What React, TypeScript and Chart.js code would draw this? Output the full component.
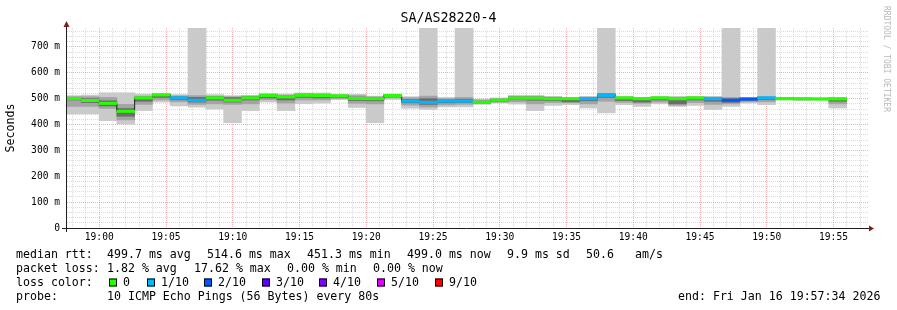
import React, { useEffect, useRef } from 'react';
import { Chart, registerables } from 'chart.js';

Chart.register(...registerables);

// ---------- data ----------
// step centre times, seconds relative to 19:00:00 (80 s steps)
const stepTimes = [
  -121, -41, 39, 119, 199, 279, 359, 439, 519, 599, 679, 759, 839, 919, 999,
  1079, 1159, 1239, 1319, 1399, 1479, 1559, 1639, 1719, 1799, 1879, 1959, 2039,
  2119, 2199, 2279, 2359, 2439, 2519, 2599, 2679, 2759, 2839, 2919, 2999, 3079,
  3159, 3239, 3319,
];
// median rtt (ms)
const median = [
  501, 493, 482, 451.3, 503, 514.6, 503, 494, 503, 494, 503, 512, 507, 513, 512,
  511, 501, 500, 512, 491, 486, 491, 491, 486, 494, 502, 502, 500, 500, 500,
  513, 503, 500, 503, 500, 503, 500, 494, 499, 503, 500, 500, 499, 499,
];
// loss level index into lossColors
const lossLevel = [
  0, 0, 0, 0, 0, 0, 1, 1, 0, 0, 0, 0, 0, 0, 0, 0, 0, 0, 0, 1, 1, 1, 1, 0, 0, 0,
  0, 0, 0, 1, 1, 0, 0, 0, 0, 0, 1, 2, 2, 1, 0, 0, 0, 0,
];
// smoke: fastest / slowest ping (ms); 780 = beyond the top of the graph
const smokeMin = [
  441, 441, 415, 402, 454, 487, 472, 467, 460, 407, 454, 487, 454, 481, 483,
  496, 466, 407, 497, 463, 459, 468, 468, 478, 483, 479, 454, 474, 477, 464,
  445, 477, 470, 480, 470, 474, 458, 470, 483, 477, 495, 494, 495, 464,
];
const smokeMax = [
  512, 514, 523, 523, 518, 520, 516, 780, 516, 512, 513, 520, 518, 522, 522,
  516, 517, 510, 518, 508, 780, 505, 780, 498, 503, 513, 513, 509, 505, 509,
  780, 509, 505, 509, 509, 509, 509, 780, 505, 780, 505, 503, 503, 505,
];
// smoke: 2nd fastest / 2nd slowest ping band
const midLo = [
  470, 470, 462, 418, 478, 495, 488, 478, 480, 478, 480, 496, 483, 495, 495,
  500, 482, 480, 503, 475, 468, 476, 478, 481, 486, 488, 480, 485, 484, 480,
  490, 486, 482, 487, 475, 485, 478, 480, 488, 488, 497, 495, 496, 480,
];
const midHi = [
  508, 508, 505, 478, 510, 518, 511, 512, 510, 508, 510, 518, 514, 520, 519,
  515, 512, 507, 516, 504, 510, 500, 505, 495, 500, 509, 509, 506, 503, 506,
  520, 506, 503, 506, 505, 506, 506, 505, 502, 508, 503, 502, 502, 503,
];
// smoke: central pings band
const coreLo = [
  495, 485, 472, 432, 490, 505, 496, 487, 494, 487, 495, 503, 495, 505, 503,
  505, 493, 492, 507, 484, 478, 484, 485, 483, 489, 496, 494, 493, 488, 492,
  505, 493, 487, 495, 480, 495, 490, 486, 493, 496, 498, 496, 497, 490,
];
const coreHi = [
  505, 500, 492, 462, 506, 516, 507, 505, 507, 504, 507, 515, 510, 517, 515,
  513, 506, 504, 514, 497, 500, 496, 498, 490, 498, 506, 506, 504, 500, 503,
  519, 505, 499, 505, 500, 505, 503, 500, 500, 506, 502, 501, 501, 500,
];

const xTickValues = [0, 300, 600, 900, 1200, 1500, 1800, 2100, 2400, 2700, 3000, 3300];
const xTickLabels = ['19:00', '19:05', '19:10', '19:15', '19:20', '19:25', '19:30', '19:35', '19:40', '19:45', '19:50', '19:55'];
const yTickValues = [0, 100, 200, 300, 400, 500, 600, 700];
const yTickLabels = ['0', '100 m', '200 m', '300 m', '400 m', '500 m', '600 m', '700 m'];

const lossLabels = ['0', '1/10', '2/10', '3/10', '4/10', '5/10', '9/10'];
const lossColors = ['#26ff00', '#00b8ff', '#0059ff', '#5e00ff', '#7e00ff', '#dd00ff', '#ff0000'];

const title = 'SA/AS28220-4';
const yTitle = 'Seconds';
const watermark = 'RRDTOOL / TOBI OETIKER';
const rttLabel = 'median rtt:';
const rttStats = ['499.7 ms avg', '514.6 ms max', '451.3 ms min', '499.0 ms now', '9.9 ms sd', '50.6', 'am/s'];
const lossLabel = 'packet loss:';
const lossStats = ['1.82 % avg', '17.62 % max', '0.00 % min', '0.00 % now'];
const lossColorLabel = 'loss color:';
const probeLabel = 'probe:';
const probeText = '10 ICMP Echo Pings (56 Bytes) every 80s';
const endText = 'end: Fri Jan 16 19:57:34 2026';

// ---------- layout / style ----------
const W = 897;
const H = 310;
const X_MIN = -145;
const X_MAX = 3455;
const Y_MAX = 773.4;
const MEDIAN_HALF = 4.6;
const MONO = '"DejaVu Sans Mono", monospace';
const MINOR = 'rgba(143,143,143,0.32)';
const MAJOR = 'rgba(222,79,79,0.45)';

const rttX = [107, 207, 307, 407, 507, 586, 635];
const lossX = [107, 194, 287, 373];
const boxX = [109, 147, 204, 262, 319, 377, 435];
const rowY = [254.5, 268.5, 282.5, 296.5];

const barDs = (lo: number[], hi: number[], color: any, order: number) => ({
  type: 'bar' as const,
  data: stepTimes.map((t, i) => ({ x: t, y: [lo[i], hi[i]] })),
  backgroundColor: color,
  borderWidth: 0,
  barThickness: 'flex' as const,
  categoryPercentage: 1,
  barPercentage: 1,
  stack: 'smoke',
  clip: 0,
  order,
});

const decor = {
  id: 'decor',
  afterDraw(chart: any) {
    const ctx: CanvasRenderingContext2D = chart.ctx;
    const { left, right, top, bottom } = chart.chartArea;
    ctx.save();
    // axes
    ctx.strokeStyle = '#1f1f1f';
    ctx.lineWidth = 1;
    ctx.beginPath();
    ctx.moveTo(left - 5, bottom + 0.5);
    ctx.lineTo(right + 3, bottom + 0.5);
    ctx.moveTo(left - 0.5, bottom + 4);
    ctx.lineTo(left - 0.5, top - 2);
    ctx.stroke();
    ctx.fillStyle = '#801f1f';
    ctx.beginPath();
    ctx.moveTo(right + 1, bottom - 2.5);
    ctx.lineTo(right + 6, bottom + 0.5);
    ctx.lineTo(right + 1, bottom + 3.5);
    ctx.closePath();
    ctx.fill();
    ctx.beginPath();
    ctx.moveTo(left - 3.5, top - 1);
    ctx.lineTo(left - 0.5, top - 7);
    ctx.lineTo(left + 2.5, top - 1);
    ctx.closePath();
    ctx.fill();

    // title
    ctx.fillStyle = '#000';
    ctx.textBaseline = 'middle';
    ctx.textAlign = 'center';
    ctx.font = `13.3px ${MONO}`;
    ctx.fillText(title, W / 2, 19);

    // watermark
    ctx.save();
    ctx.translate(886, 59);
    ctx.rotate(Math.PI / 2);
    ctx.font = `8px ${MONO}`;
    ctx.fillStyle = '#b8b8b8';
    ctx.fillText(watermark, 0, 0);
    ctx.restore();

    // legend
    ctx.textAlign = 'left';
    ctx.font = `11.6px ${MONO}`;
    ctx.fillStyle = '#000';
    ctx.fillText(rttLabel, 16, rowY[0]);
    rttStats.forEach((s, i) => ctx.fillText(s, rttX[i], rowY[0]));
    ctx.fillText(lossLabel, 16, rowY[1]);
    lossStats.forEach((s, i) => ctx.fillText(s, lossX[i], rowY[1]));
    ctx.fillText(lossColorLabel, 16, rowY[2]);
    lossLabels.forEach((s, i) => {
      const bx = boxX[i];
      ctx.fillStyle = lossColors[i];
      ctx.fillRect(bx, rowY[2] - 4, 8, 8);
      ctx.strokeStyle = '#000';
      ctx.strokeRect(bx + 0.5, rowY[2] - 3.5, 7, 7);
      ctx.fillStyle = '#000';
      ctx.fillText(s, bx + 14, rowY[2]);
    });
    ctx.fillText(probeLabel, 16, rowY[3]);
    ctx.fillText(probeText, 107, rowY[3]);
    ctx.fillText(endText, 678, rowY[3]);
    ctx.restore();
  },
};

export default function App() {
  const ref = useRef<HTMLCanvasElement>(null);
  useEffect(() => {
    const chart = new Chart(ref.current as HTMLCanvasElement, {
      type: 'bar',
      data: {
        datasets: [
          barDs(smokeMin, smokeMax, '#cacaca', 5),
          barDs(midLo, midHi, '#a4a4a4', 4),
          barDs(coreLo, coreHi, '#6c6c6c', 3),
          {
            type: 'line',
            data: stepTimes.map((t, i) => ({ x: t, y: median[i] })),
            stepped: 'middle',
            borderColor: '#202020',
            borderWidth: 1,
            pointRadius: 0,
            clip: 0,
            order: 2,
          } as any,
          {
            type: 'bar',
            data: stepTimes.map((t, i) => ({ x: t, y: [median[i] - MEDIAN_HALF, median[i] + MEDIAN_HALF] })),
            backgroundColor: lossLevel.map((l) => lossColors[l]),
            borderWidth: 0,
            barThickness: 'flex',
            categoryPercentage: 1,
            barPercentage: 1,
            stack: 'smoke',
            clip: 0,
            order: 1,
          } as any,
        ] as any,
      },
      options: {
        animation: false,
        responsive: false,
        maintainAspectRatio: false,
        devicePixelRatio: 1,
        layout: { padding: { left: 0, right: 29, top: 28, bottom: 0 } },
        plugins: { legend: { display: false }, tooltip: { enabled: false }, title: { display: false } },
        scales: {
          x: {
            type: 'linear',
            min: X_MIN,
            max: X_MAX,
            bounds: 'data',
            offset: false,
            z: 1,
            grid: {
              offset: false,
              drawTicks: false,
              lineWidth: 1,
              color: (c: any) => (c.tick && c.tick.value % 300 === 0 ? MAJOR : MINOR),
            },
            border: { display: false, dash: [1, 1] },
            ticks: {
              autoSkip: false,
              maxRotation: 0,
              padding: 4,
              color: '#000',
              font: { family: MONO, size: 9.6, lineHeight: 1.2 },
              callback: (v: any) => {
                const i = xTickValues.indexOf(Number(v));
                return i >= 0 ? xTickLabels[i] : '';
              },
            },
            afterBuildTicks: (s: any) => {
              const t = [];
              for (let v = -120; v <= 3420; v += 60) t.push({ value: v });
              s.ticks = t;
            },
            afterFit: (s: any) => {
              s.height = H - 228;
            },
          },
          y: {
            type: 'linear',
            min: 0,
            max: Y_MAX,
            stacked: false,
            bounds: 'data',
            z: 1,
            grid: {
              drawTicks: false,
              lineWidth: 1,
              color: (c: any) => (c.tick && c.tick.value % 100 === 0 ? MAJOR : MINOR),
            },
            border: { display: false, dash: [1, 1] },
            title: {
              display: true,
              text: yTitle,
              color: '#000',
              padding: { top: 4, bottom: 0 },
              font: { family: MONO, size: 11.6, lineHeight: 1.2 },
            },
            ticks: {
              autoSkip: false,
              padding: 7,
              color: '#000',
              font: { family: MONO, size: 9.6, lineHeight: 1.2 },
              callback: (v: any) => {
                const i = yTickValues.indexOf(Number(v));
                return i >= 0 ? yTickLabels[i] : '';
              },
            },
            afterBuildTicks: (s: any) => {
              const t = [];
              for (let v = 0; v <= 760; v += 20) t.push({ value: v });
              s.ticks = t;
            },
            afterFit: (s: any) => {
              s.width = 67;
            },
          },
        },
      } as any,
      plugins: [decor],
    });
    return () => chart.destroy();
  }, []);
  return (
    <div style={{ position: 'absolute', left: 0, top: 0, width: W, height: H, background: '#fff' }}>
      <canvas ref={ref} width={W} height={H} style={{ display: 'block', width: W, height: H }} />
    </div>
  );
}
